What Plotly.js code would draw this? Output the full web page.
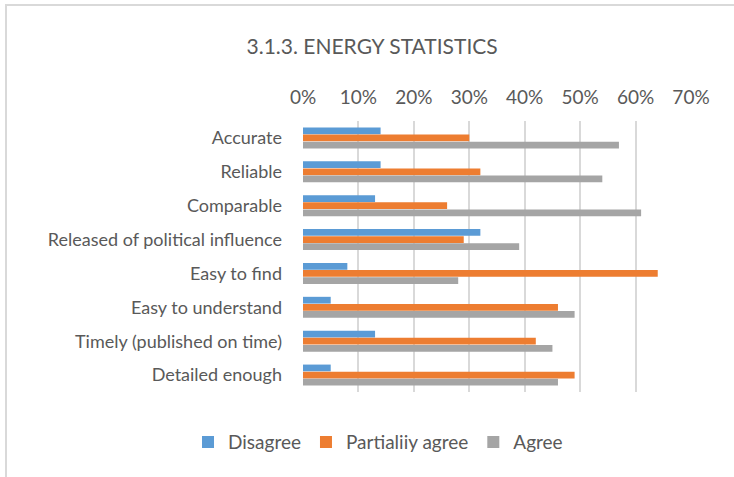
<!DOCTYPE html>
<html>
<head>
<meta charset="utf-8">
<script src="https://cdn.plot.ly/plotly-3.0.1.min.js"></script>
<style>
  html, body { margin: 0; padding: 0; background: #fff; }
  #wrap { position: relative; width: 734px; height: 477px; }
  #chart { width: 734px; height: 477px; }
  #frame { position: absolute; left: 5px; top: 4px; width: 729px; height: 473px;
           border-top: 2px solid #d9d9d9; border-left: 2px solid #d9d9d9;
           pointer-events: none; box-sizing: border-box; }
</style>
</head>
<body>
<div id="wrap">
  <div id="chart"></div>
  <div id="frame"></div>
</div>
<script>
const categories = [
  "Accurate",
  "Reliable",
  "Comparable",
  "Released of political influence",
  "Easy to find",
  "Easy to understand",
  "Timely (published on time)",
  "Detailed enough"
];
const disagree = [0.14, 0.14, 0.13, 0.32, 0.08, 0.05, 0.13, 0.05];
const partiallyAgree = [0.30, 0.32, 0.26, 0.29, 0.64, 0.46, 0.42, 0.49];
const agree = [0.57, 0.54, 0.61, 0.39, 0.28, 0.49, 0.45, 0.46];
const seriesNames = ["Disagree", "Partialiiy agree", "Agree"];
const seriesColors = ["#5B9BD5", "#ED7D31", "#A5A5A5"];
const tickVals = [0, 0.1, 0.2, 0.3, 0.4, 0.5, 0.6, 0.7];
const tickText = ["0%", "10%", "20%", "30%", "40%", "50%", "60%", "70%"];

const FONT = "Lato, 'Open Sans', sans-serif";
const TXT = "#595959";

const seriesValues = [disagree, partiallyAgree, agree];
const traces = seriesValues.map((vals, i) => ({
  type: "bar",
  orientation: "h",
  name: seriesNames[i],
  x: vals,
  y: categories,
  marker: { color: seriesColors[i] },
  hoverinfo: "x+y+name"
}));

const layout = {
  width: 734,
  height: 477,
  paper_bgcolor: "#ffffff",
  plot_bgcolor: "#ffffff",
  barmode: "group",
  bargap: 0.37,
  bargroupgap: 0.05,
  margin: { l: 303, r: 43, t: 121, b: 85 },
  font: { family: FONT, color: TXT },
  title: {
    text: "3.1.3. ENERGY STATISTICS",
    font: { family: FONT, size: 21, color: TXT },
    x: 0.507, xref: "container", xanchor: "center",
    y: 0.902, yref: "container", yanchor: "middle"
  },
  xaxis: {
    side: "top",
    range: [0, 0.7],
    tickvals: tickVals,
    ticktext: tickText,
    showgrid: true,
    gridcolor: "#d9d9d9",
    gridwidth: 1.5,
    zeroline: false,
    showline: false,
    ticks: "",
    ticklabelstandoff: 12,
    tickfont: { family: FONT, size: 19, color: TXT },
    fixedrange: true
  },
  yaxis: {
    autorange: "reversed",
    type: "category",
    showgrid: false,
    zeroline: false,
    showline: false,
    ticks: "",
    ticklabelstandoff: 20,
    tickfont: { family: FONT, size: 18, color: TXT },
    fixedrange: true
  },
  legend: {
    orientation: "h",
    xref: "container",
    yref: "container",
    x: 0.515,
    xanchor: "center",
    y: 0.073,
    yanchor: "middle",
    font: { family: FONT, size: 19, color: TXT },
    itemwidth: 30,
    traceorder: "normal"
  },
  showlegend: true
};

Plotly.newPlot("chart", traces, layout, { displayModeBar: false, staticPlot: false });
</script>
</body>
</html>
